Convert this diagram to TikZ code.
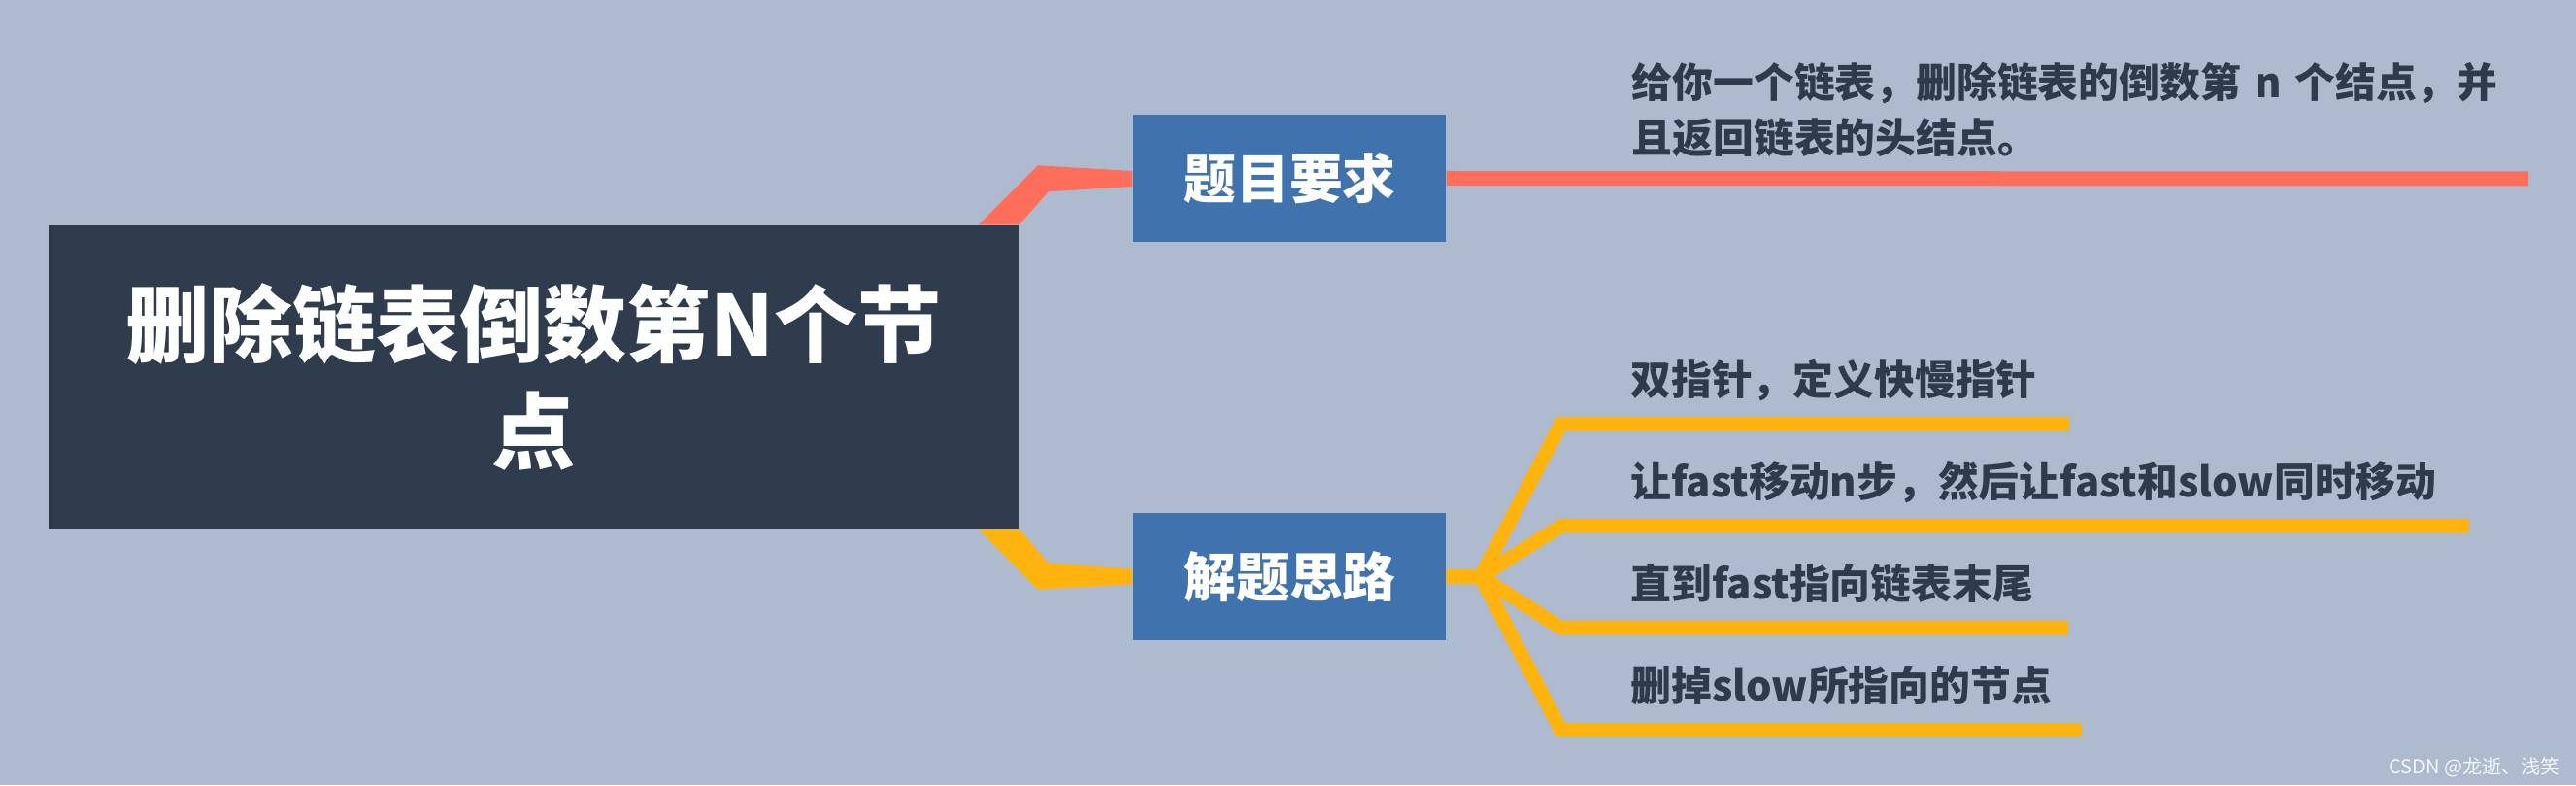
\documentclass[tikz,border=0pt]{standalone}
\usepackage{fontspec}
\setmainfont{Noto Sans CJK SC}
\usetikzlibrary{positioning, calc}

\definecolor{bgblue}{RGB}{174,187,207}
\definecolor{titledark}{RGB}{47,60,77}
\definecolor{topicblue}{RGB}{64,114,174}
\definecolor{reqred}{RGB}{255,110,91}
\definecolor{ideayellow}{RGB}{255,179,14}
\definecolor{notedark}{RGB}{47,59,76}

\begin{document}
\begin{tikzpicture}[
    titlebox/.style={
        fill=titledark,
        text=white,
        font=\fontsize{24.5}{31.3}\selectfont\bfseries,
        align=center,
        minimum width=9.99cm,
        minimum height=3.12cm
    },
    topicbox/.style={
        fill=topicblue,
        text=white,
        font=\fontsize{15.6}{19}\selectfont\bfseries,
        minimum width=3.22cm,
        minimum height=1.31cm
    },
    note/.style={
        anchor=base west,
        inner sep=0pt,
        align=left,
        text=notedark,
        font=\fontsize{11.9}{16.2}\selectfont\bfseries
    },
    redbar/.style={
        draw=reqred,
        line width=0.15cm
    },
    yellowbar/.style={
        draw=ideayellow,
        line width=0.145cm
    }
]

\useasboundingbox[fill=bgblue] (0,0) rectangle (26.53,8.08);

\node[titlebox] (title) at (5.495,4.20) {删除链表倒数第N个节\\点};

\node[topicbox] (req) at (13.28,6.245) {题目要求};

\node[topicbox, below=2.775cm of req] (idea) {解题思路};

% tapered links from the title
\fill[reqred] ($(title.north east)+(-0.42,0)$) -- ++(0.61,0.61)
    -- ($(req.west)+(0,0.075)$) -- ($(req.west)+(0,-0.085)$)
    -- ($(title.north east)+(0.30,0.34)$) -- (title.north east) -- cycle;
\fill[ideayellow] ($(title.south east)+(-0.42,0)$) -- ++(0.61,-0.62)
    -- ($(idea.west)+(0,-0.08)$) -- ($(idea.west)+(0,0.08)$)
    -- ($(title.south east)+(0.30,-0.35)$) -- (title.south east) -- cycle;

% requirement
\coordinate (reqend) at (26.04,6.24);
\draw[redbar] (req.east) -- (reqend);

\node[note, anchor=north west, text width=9.2cm] (reqtext) at (16.80,7.45)
    {给你一个链表，删除链表的倒数第 n 个结点，并\\且返回链表的头结点。};

% solution steps
\coordinate[right=0.35cm of idea] (hub);
\coordinate[above right=1.57cm and 0.83cm of hub] (c1);
\coordinate[above right=0.52cm and 0.83cm of hub] (c2);
\coordinate[below right=0.53cm and 0.83cm of hub] (c3);
\coordinate[below right=1.58cm and 0.83cm of hub] (c4);

\node[note, text width=4.51cm] (step1) at ($(c1)+(0.71,0.30)$)
    {双指针，定义快慢指针};
\node[note, text width=8.63cm] (step2) at ($(c2)+(0.71,0.30)$)
    {让fast移动n步，然后让fast和slow同时移动};
\node[note, text width=4.50cm] (step3) at ($(c3)+(0.71,0.30)$)
    {直到fast指向链表末尾};
\node[note, text width=4.64cm] (step4) at ($(c4)+(0.71,0.30)$)
    {删掉slow所指向的节点};

\draw[yellowbar] (idea.east) -- (hub) -- (c1) -- (c1 -| step1.east);
\draw[yellowbar] (idea.east) -- (hub) -- (c2) -- (c2 -| step2.east);
\draw[yellowbar] (idea.east) -- (hub) -- (c3) -- (c3 -| step3.east);
\draw[yellowbar] (idea.east) -- (hub) -- (c4) -- (c4 -| step4.east);

\node[anchor=base east, inner sep=0pt, text=white!85!bgblue,
    font=\fontsize{5.7}{7}\selectfont] (mark) at (26.37,0.12)
    {CSDN @龙逝、浅笑};

\end{tikzpicture}
\end{document}
